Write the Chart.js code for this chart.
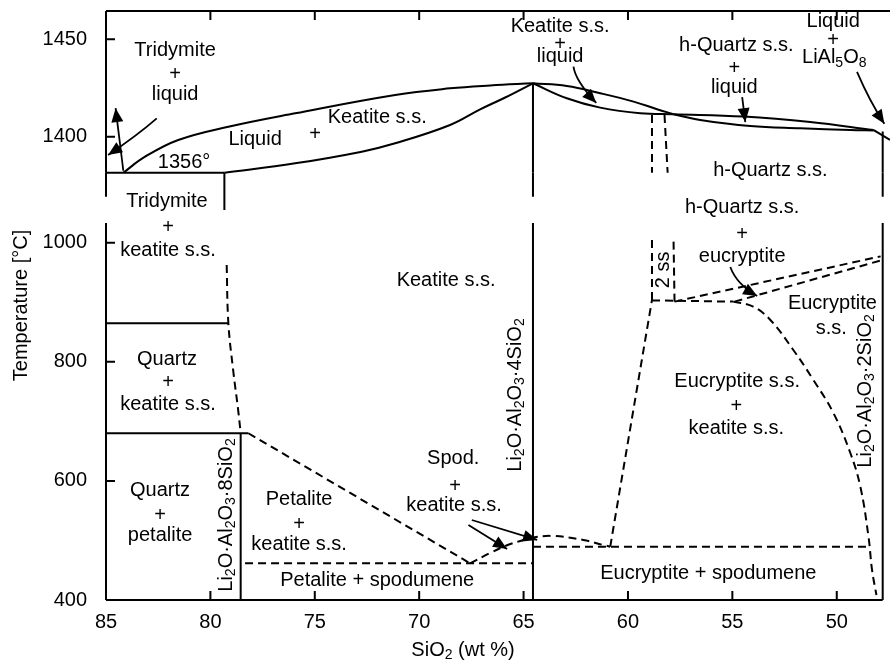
<!DOCTYPE html>
<html>
<head>
<meta charset="utf-8">
<title>Li2O·Al2O3 – SiO2 phase diagram</title>
<script src="https://cdn.jsdelivr.net/npm/chart.js@4.4.1/dist/chart.umd.min.js"></script>
<style>
  html, body { margin: 0; padding: 0; background: #fff; }
  #wrap { width: 890px; height: 663px; position: relative; }
</style>
</head>
<body>
<div id="wrap"><canvas id="phase"></canvas></div>
<script>
// ==============================
// AXES
// ==============================
const siTicks = [85, 80, 75, 70, 65, 60, 55, 50];
const highTicks = [1400, 1450];
const lowTicks = [400, 600, 800, 1000];
const siMin = 47.45, siMax = 85;
const highMin = 1381.5, highMax = 1464.5;   // liquidus band
const lowMin = 400, lowMax = 1033;          // sub-solidus band

// compositions of the vertical lines (wt % SiO2)
const petaliteSi = 78.55;
const spodumeneSi = 64.55;
const eucryptiteSi = 47.8;
const tridymiteEdgeSi = 79.33;

// ==============================
// LIQUIDUS BAND  [SiO2, T]
// ==============================
const eutecticLine = [[85, 1381.5], [79.33, 1381.5]];
const liquidusLeft = [[84.17, 1381.5], [83.13, 1389.7], [81.54, 1398.3], [79.14, 1405.1], [75.94, 1412.0], [71.15, 1421.4], [68.52, 1424.8], [66.6, 1426.3], [64.55, 1427.4]];
const solidusLeft = [[79.33, 1381.5], [75.94, 1386.3], [72.75, 1392.3], [71.15, 1396.6], [68.52, 1406.0], [67.08, 1414.0], [65.88, 1420.1], [64.55, 1427.4]];
const liquidusMid = [[64.55, 1427.4], [62.93, 1426.0], [61.33, 1422.3], [59.73, 1418.0], [58.61, 1414.1], [57.82, 1411.5]];
const solidusMid = [[64.55, 1427.4], [62.93, 1419.7], [61.33, 1414.9], [59.41, 1412.0], [57.82, 1411.5]];
const hQuartzLiquidus = [[57.82, 1411.5], [54.46, 1410.3], [51.27, 1407.5], [48.23, 1403.4]];
const hQuartzSolidus = [[57.82, 1411.5], [56.54, 1408.6], [54.14, 1405.5], [51.75, 1404.3], [49.35, 1403.4], [48.23, 1403.2]];
const aluminateEdge = [[48.23, 1403.4], [47.45, 1398.3]];
const hQuartzDashA = [[58.85, 1411.1], [58.85, 1381.5]];
const hQuartzDashB = [[58.25, 1411.1], [58.1, 1381.5]];

// ==============================
// SUB-SOLIDUS BAND  [SiO2, T]
// ==============================
const quartzTridymite = [[85, 864.6], [79.14, 864.6]];
const quartzPetalite = [[85, 680], [78.18, 680]];
const tridymiteKeatite = [[79.22, 962.6], [79.14, 865], [78.91, 786], [78.67, 719], [78.55, 680]];
const petaliteKeatite = [[78.18, 680], [67.56, 461.6]];
const petaliteSpodumene = [[78.34, 461.6], [64.55, 461.6]];
const spodKeatite = [[67.56, 461.6], [66.6, 479], [65.88, 490.7], [65.16, 499.1], [64.55, 505], [63.58, 507.5], [62.14, 500.8], [61.19, 492.4], [60.85, 489.5]];
const eucryptiteSpodumene = [[64.55, 489.6], [48.4, 489.6]];
const eucryptiteKeatiteLeft = [[60.85, 489.5], [58.85, 903.8]];
const twoSsLeft = [[58.85, 903.8], [58.85, 1004.5]];
const twoSsRight = [[57.77, 901], [57.82, 1010]];
const eucryptiteFloor = [[58.85, 903], [54.96, 901]];
const eucryptiteKeatiteRight = [[54.96, 901], [54.0, 892.5], [53.18, 870.2], [52.08, 819.8], [51.12, 769.4], [50.16, 714], [49.35, 646.8], [48.87, 590.3], [48.48, 506.3], [48.31, 450.4], [48.1, 408.4]];
const hQuartzEucryptiteA = [[57.77, 901], [47.9, 977]];
const hQuartzEucryptiteB = [[54.9, 901], [47.9, 970]];

// leader arrows, tail first
const arrows = [
    { axis: "yHigh", pts: [[84.17, 1382.5], [84.54, 1414.6]] },
    { axis: "yHigh", pts: [[82.57, 1409.4], [83.61, 1400.4], [84.9, 1390.6]] },
    { axis: "yHigh", pts: [[62.61, 1435.9], [62.29, 1427.6], [61.52, 1417.3]] },
    { axis: "yHigh", pts: [[54.53, 1420.3], [54.45, 1413.5], [54.38, 1407.5]] },
    { axis: "yHigh", pts: [[49.03, 1433.2], [48.39, 1418.8], [47.72, 1406.6]] },
    { axis: "yLow", pts: [[67.48, 534.3], [64.35, 500.8]] },
    { axis: "yLow", pts: [[67.64, 525.9], [65.79, 485.6]] },
    { axis: "yLow", pts: [[55.1, 959.2], [54.62, 932.3], [53.81, 910.5]] }
];

// phase field names: text, SiO2, value, band, vertical
const fieldLabels = [
    ["Tridymite", 81.69, 1444.0, "yHigh"],
    ["+", 81.69, 1431.7, "yHigh"],
    ["liquid", 81.69, 1421.4, "yHigh"],
    ["Liquid", 77.86, 1398.8, "yHigh"],
    ["+", 74.99, 1400.9, "yHigh"],
    ["Keatite s.s.", 72.01, 1409.6, "yHigh"],
    ["1356°", 81.26, 1387.0, "yHigh"],
    ["Keatite s.s.", 63.25, 1456.3, "yHigh"],
    ["+", 63.25, 1447.1, "yHigh"],
    ["liquid", 63.25, 1441.4, "yHigh"],
    ["h-Quartz s.s.", 54.81, 1446.6, "yHigh"],
    ["+", 54.91, 1434.8, "yHigh"],
    ["liquid", 54.91, 1425.0, "yHigh"],
    ["Liquid", 50.17, 1458.9, "yHigh"],
    ["+", 50.17, 1449.6, "yHigh"],
    ["LiAl_5O_8", 50.12, 1440.4, "yHigh"],
    ["h-Quartz s.s.", 53.18, 1382.6, "yHigh"],
    ["Tridymite", 82.08, 0.42, "yGap"],
    ["h-Quartz s.s.", 54.53, 0.3, "yGap"],
    ["+", 82.03, 1024.7, "yLow"],
    ["keatite s.s.", 82.03, 986.1, "yLow"],
    ["Keatite s.s.", 68.71, 935.7, "yLow"],
    ["Quartz", 82.08, 803.0, "yLow"],
    ["+", 82.03, 764.4, "yLow"],
    ["keatite s.s.", 82.03, 727.5, "yLow"],
    ["Quartz", 82.41, 584.7, "yLow"],
    ["+", 82.41, 542.7, "yLow"],
    ["petalite", 82.41, 507.5, "yLow"],
    ["Petalite", 75.75, 569.6, "yLow"],
    ["+", 75.75, 527.6, "yLow"],
    ["keatite s.s.", 75.75, 492.4, "yLow"],
    ["Petalite + spodumene", 72.01, 433.6, "yLow"],
    ["Spod.", 68.37, 636.8, "yLow"],
    ["+", 68.28, 591.4, "yLow"],
    ["keatite s.s.", 68.33, 559.5, "yLow"],
    ["+", 54.53, 1012.9, "yLow"],
    ["eucryptite", 54.53, 977.6, "yLow"],
    ["Eucryptite", 50.21, 898.7, "yLow"],
    ["s.s.", 50.26, 855.1, "yLow"],
    ["Eucryptite s.s.", 54.77, 766.1, "yLow"],
    ["+", 54.81, 724.1, "yLow"],
    ["keatite s.s.", 54.81, 688.8, "yLow"],
    ["Eucryptite + spodumene", 56.15, 443.7, "yLow"],
    ["2 ss", 58.31, 954.2, "yLow", true],
    ["Li_2O·Al_2O_3·8SiO_2", 79.25, 542.7, "yLow", true],
    ["Li_2O·Al_2O_3·4SiO_2", 65.4, 744.2, "yLow", true],
    ["Li_2O·Al_2O_3·2SiO_2", 48.63, 751.0, "yLow", true]
];

// ==============================
// DATASETS
// ==============================
const solid = (pts, axis, smooth) => ({
    data: pts.map(([x, y]) => ({ x, y })),
    yAxisID: axis,
    showLine: true,
    tension: smooth ? 0.4 : 0,
    borderDash: [],
    clip: false
});
const dashed = (pts, axis, smooth) => Object.assign(solid(pts, axis, smooth), { borderDash: [8, 5] });
const vertical = (si, a, b, axis) => solid([[si, a], [si, b]], axis);

const datasets = [
    // frame
    solid([[siMax, highMax], [siMin, highMax]], "yHigh"),
    vertical(siMax, highMax, highMin, "yHigh"),
    vertical(siMax, 1, 0.52, "yGap"),
    vertical(siMax, lowMax, lowMin, "yLow"),
    solid([[siMax, lowMin], [eucryptiteSi, lowMin]], "yLow"),
    // compound lines
    vertical(spodumeneSi, 1427.4, highMin, "yHigh"),
    vertical(spodumeneSi, 1, 0.52, "yGap"),
    vertical(spodumeneSi, lowMax, lowMin, "yLow"),
    vertical(eucryptiteSi, 1402.6, highMin, "yHigh"),
    vertical(eucryptiteSi, 1, 0.52, "yGap"),
    vertical(eucryptiteSi, lowMax, lowMin, "yLow"),
    vertical(tridymiteEdgeSi, 1, 0.26, "yGap"),
    vertical(petaliteSi, 680, lowMin, "yLow"),
    // liquidus band
    solid(eutecticLine, "yHigh"),
    solid(liquidusLeft, "yHigh", true),
    solid(solidusLeft, "yHigh", true),
    solid(liquidusMid, "yHigh", true),
    solid(solidusMid, "yHigh", true),
    solid(hQuartzLiquidus, "yHigh", true),
    solid(hQuartzSolidus, "yHigh", true),
    solid(aluminateEdge, "yHigh"),
    dashed(hQuartzDashA, "yHigh"),
    dashed(hQuartzDashB, "yHigh"),
    // sub-solidus band
    solid(quartzTridymite, "yLow"),
    solid(quartzPetalite, "yLow"),
    dashed(tridymiteKeatite, "yLow", true),
    dashed(petaliteKeatite, "yLow"),
    dashed(petaliteSpodumene, "yLow"),
    dashed(spodKeatite, "yLow", true),
    dashed(eucryptiteSpodumene, "yLow"),
    dashed(eucryptiteKeatiteLeft, "yLow"),
    dashed(twoSsLeft, "yLow"),
    dashed(twoSsRight, "yLow"),
    dashed(eucryptiteFloor, "yLow"),
    dashed(eucryptiteKeatiteRight, "yLow", true),
    dashed(hQuartzEucryptiteA, "yLow"),
    dashed(hQuartzEucryptiteB, "yLow")
];

// ==============================
// TEXT, TICKS AND ARROWS
// ==============================
const FAMILY = '"Liberation Sans", Arial, Helvetica, sans-serif';
const MAIN_FONT = "20px " + FAMILY;
const SUB_FONT = "14px " + FAMILY;

// "_x" marks a one-character subscript
function richSegments(str) {
    const segs = [];
    for (let i = 0; i < str.length; i++) {
        if (str[i] === "_") {
            segs.push({ t: str[i + 1], sub: true });
            i++;
        } else if (segs.length && !segs[segs.length - 1].sub) {
            segs[segs.length - 1].t += str[i];
        } else {
            segs.push({ t: str[i], sub: false });
        }
    }
    return segs;
}

function drawRich(ctx, str, x, y, upright) {
    const segs = richSegments(str);
    let w = 0;
    segs.forEach(s => {
        ctx.font = s.sub ? SUB_FONT : MAIN_FONT;
        s.w = ctx.measureText(s.t).width;
        w += s.w;
    });
    ctx.save();
    ctx.translate(x, y);
    if (upright) ctx.rotate(-Math.PI / 2);
    ctx.textBaseline = "middle";
    ctx.textAlign = "left";
    ctx.fillStyle = "#000";
    let cx = -w / 2;
    segs.forEach(s => {
        ctx.font = s.sub ? SUB_FONT : MAIN_FONT;
        ctx.fillText(s.t, cx, s.sub ? 5 : 0);
        cx += s.w;
    });
    ctx.restore();
}

function drawArrow(ctx, pts) {
    const [p0, p1, p2] = pts;
    let from;
    ctx.beginPath();
    ctx.moveTo(p0.x, p0.y);
    if (p2) {
        // control point so the curve passes through the middle point
        const c = { x: 2 * p1.x - (p0.x + p2.x) / 2, y: 2 * p1.y - (p0.y + p2.y) / 2 };
        ctx.quadraticCurveTo(c.x, c.y, p2.x, p2.y);
        from = c;
    } else {
        ctx.lineTo(p1.x, p1.y);
        from = p0;
    }
    ctx.stroke();
    const tip = p2 || p1;
    const dx = tip.x - from.x, dy = tip.y - from.y;
    const len = Math.hypot(dx, dy);
    const ux = dx / len, uy = dy / len;
    const bx = tip.x - ux * 14, by = tip.y - uy * 14;
    ctx.beginPath();
    ctx.moveTo(tip.x, tip.y);
    ctx.lineTo(bx - uy * 6, by + ux * 6);
    ctx.lineTo(bx + uy * 6, by - ux * 6);
    ctx.closePath();
    ctx.fill();
}

const diagramText = {
    id: "diagramText",
    afterDatasetsDraw(chart) {
        const { ctx, chartArea: area, scales } = chart;
        const sx = scales.x;
        ctx.save();
        ctx.strokeStyle = "#000";
        ctx.fillStyle = "#000";
        ctx.lineWidth = 2;

        // inward tick marks
        ctx.beginPath();
        highTicks.forEach(v => {
            const y = scales.yHigh.getPixelForValue(v);
            ctx.moveTo(area.left, y); ctx.lineTo(area.left + 9, y);
        });
        lowTicks.forEach(v => {
            const y = scales.yLow.getPixelForValue(v);
            ctx.moveTo(area.left, y); ctx.lineTo(area.left + 9, y);
        });
        siTicks.forEach(v => {
            const x = sx.getPixelForValue(v);
            ctx.moveTo(x, area.bottom); ctx.lineTo(x, area.bottom - 9);
            if (v !== siMax) { ctx.moveTo(x, area.top); ctx.lineTo(x, area.top + 9); }
        });
        ctx.stroke();

        // field names
        fieldLabels.forEach(([t, si, v, axis, upright]) => {
            drawRich(ctx, t, sx.getPixelForValue(si), scales[axis].getPixelForValue(v), upright);
        });

        // leaders
        ctx.lineWidth = 1.8;
        arrows.forEach(a => {
            const pts = a.pts.map(([si, v]) => ({ x: sx.getPixelForValue(si), y: scales[a.axis].getPixelForValue(v) }));
            drawArrow(ctx, pts);
        });

        // axis titles
        drawRich(ctx, "Temperature [°C]", area.left - 85, (area.top + area.bottom) / 2, true);
        drawRich(ctx, "SiO_2 (wt %)", sx.getPixelForValue(67.9), area.bottom + 50, false);
        ctx.restore();
    }
};

// ==============================
// CHART
// ==============================
const tickFont = { family: FAMILY, size: 20 };
const bandAxis = (min, max, ticks, weight, stackWeight) => ({
    type: "linear",
    position: "left",
    stack: "temperature",
    stackWeight: stackWeight,
    weight: weight,
    min: min,
    max: max,
    afterBuildTicks: s => { s.ticks = ticks.map(v => ({ value: v })); },
    afterFit: s => { s.width = 106; s.paddingTop = 0; s.paddingBottom = 0; },
    grid: { display: false, drawTicks: false },
    border: { display: false },
    ticks: { display: ticks.length > 0, font: tickFont, color: "#000", padding: 19, callback: v => String(v) }
});

new Chart(document.getElementById("phase"), {
    type: "scatter",
    data: { datasets: datasets },
    options: {
        responsive: true,
        maintainAspectRatio: false,
        animation: false,
        layout: { padding: { top: 11, right: 0, bottom: 0, left: 0 } },
        elements: {
            point: { radius: 0, hoverRadius: 0 },
            line: { borderColor: "#000", borderWidth: 2, fill: false }
        },
        plugins: { legend: { display: false }, tooltip: { enabled: false } },
        scales: {
            x: {
                type: "linear",
                reverse: true,
                min: siMin,
                max: siMax,
                afterBuildTicks: s => { s.ticks = siTicks.map(v => ({ value: v })); },
                afterFit: s => { s.height = 63; s.paddingLeft = 0; s.paddingRight = 0; },
                grid: { display: false, drawTicks: false },
                border: { display: false },
                ticks: { font: tickFont, color: "#000", padding: 10, maxRotation: 0, callback: v => String(v) }
            },
            yLow: bandAxis(lowMin, lowMax, lowTicks, 1, 377),
            yGap: bandAxis(0, 1, [], 2, 50.3),
            yHigh: bandAxis(highMin, highMax, highTicks, 3, 161.7)
        }
    },
    plugins: [diagramText]
});
</script>
</body>
</html>
